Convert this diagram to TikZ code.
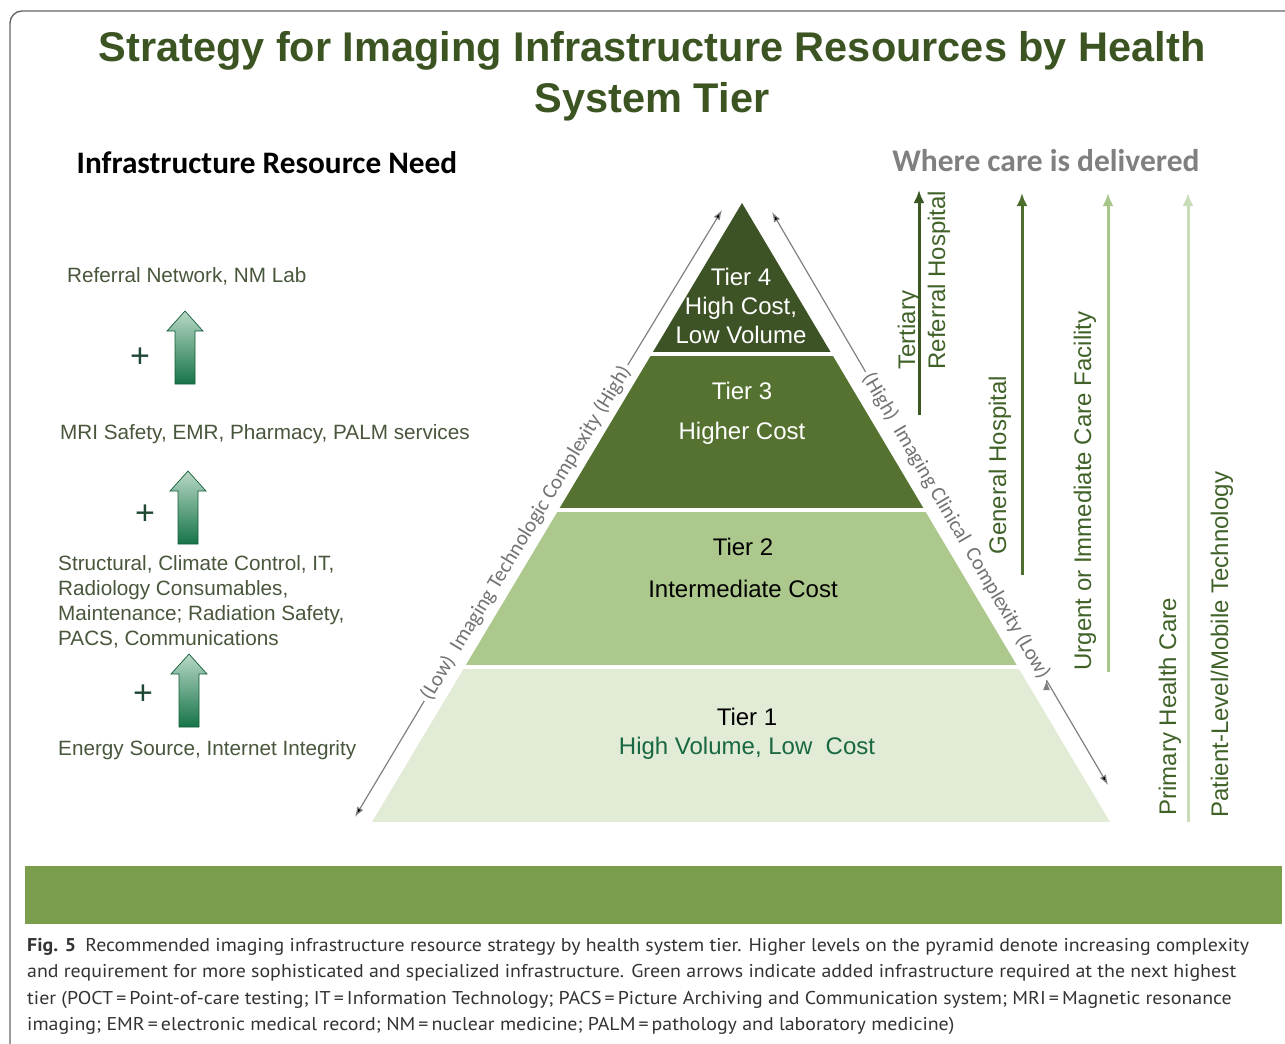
\documentclass[tikz,border=0pt]{standalone}
\usepackage{fontspec}
\setmainfont{Liberation Sans}
\newfontfamily\calfont{Carlito}
\newfontfamily\capfont[FakeStretch=1.075]{PT Sans}
\usepackage{xcolor}
\usepackage{tikz}
\usetikzlibrary{arrows.meta,shapes}

\definecolor{titlegreen}{RGB}{59,84,34}
\definecolor{leftgrey}{RGB}{72,86,60}
\definecolor{plusgreen}{RGB}{30,72,52}
\definecolor{tierfour}{RGB}{61,82,37}
\definecolor{tierthree}{RGB}{85,114,48}
\definecolor{tiertwo}{RGB}{172,200,140}
\definecolor{tierone}{RGB}{226,235,214}
\definecolor{lowgreen}{RGB}{24,104,66}
\definecolor{careone}{RGB}{60,88,34}
\definecolor{caretwo}{RGB}{78,110,46}
\definecolor{carethree}{RGB}{166,198,138}
\definecolor{carefour}{RGB}{200,220,184}
\definecolor{caretext}{RGB}{64,98,40}
\definecolor{bargreen}{RGB}{122,158,75}
\definecolor{arrowtop}{RGB}{184,216,198}
\definecolor{arrowbot}{RGB}{22,116,72}

% block arrow with its tip at (#1,#2)
\newcommand{\addarrow}[2]{%
  \shade[top color=arrowtop,bottom color=arrowbot,draw=arrowbot!80!black,line width=0.7pt]
  (#1,#2) -- ++(18,20) -- ++(-8,0) -- ++(0,53) -- ++(-20,0) -- ++(0,-53) -- ++(-8,0) -- cycle;}

\tikzset{
  lefttext/.style={anchor=base west,inner sep=0,text=leftgrey,font=\fontsize{20.7}{25}\selectfont},
  plussign/.style={text=plusgreen,font=\fontsize{34}{34}\selectfont},
  tiertext/.style={align=center,font=\fontsize{24}{29}\selectfont},
  diag/.style={inner sep=3pt,text=black!55,font=\calfont\fontsize{21}{21}\selectfont},
  diagline/.style={draw=black!50,line width=1.2pt,-{Latex[length=10pt,width=7pt]}},
  care/.style={rotate=90,text=caretext,align=left,font=\fontsize{24}{30}\selectfont},
  carearrow/.style={line width=3pt,-{Latex[length=13pt,width=11pt]}},
  captext/.style={anchor=base west,inner sep=0,text=black!80,font=\capfont\fontsize{18.5}{18.5}\selectfont}
}

\begin{document}
\begin{tikzpicture}[x=1pt,y=-1pt]
		\useasboundingbox (0,0) rectangle (1285,1044);
		\draw[black!60,line width=1.4pt,rounded corners=12pt] (1300,11) -- (10,11) -- (10,1060);
		%
		% titles
		\node[align=center,text=titlegreen,font=\bfseries\fontsize{41.5}{51}\selectfont] (title) at (652,76)
		{Strategy for Imaging Infrastructure Resources by Health\\System Tier};
		\node[font=\calfont\bfseries\fontsize{31.3}{31}\selectfont] (need) at (267,163) {Infrastructure Resource Need};
		\node[text=black!50,font=\calfont\bfseries\fontsize{31.5}{31}\selectfont] (where) at (1046,161) {Where care is delivered};
		%
		% left column
		\node[lefttext] (lab) at (67,282) {Referral\ Network,\ NM Lab};
		\node[lefttext] (palm) at (60,439) {MRI\ Safety,\ EMR,\ Pharmacy,\ PALM services};
		\node[lefttext,anchor=north west,align=left] (struct) at (58,555)
		{Structural,\ Climate Control, IT,\\Radiology Consumables,\\Maintenance;\ Radiation Safety,\\PACS, Communications};
		\node[lefttext] (energy) at (58,755) {Energy\ Source, Internet\ Integrity};
		\node[plussign] (plusone) at (140,358) {+};
		\node[plussign] (plustwo) at (145,515) {+};
		\node[plussign] (plusthree) at (143,695) {+};
		\addarrow{185}{311}
		\addarrow{188}{471}
		\addarrow{189}{654}
		%
		% pyramid
		\begin{scope}
		\clip (742,203) -- (372,822) -- (1110,822) -- cycle;
		\fill[tierfour] (300,190) rectangle (1200,352);
		\fill[tierthree] (300,356) rectangle (1200,508);
		\fill[tiertwo] (300,512) rectangle (1200,665);
		\fill[tierone] (300,669) rectangle (1200,822);
		\end{scope}
		\node[tiertext,text=white] (tfour) at (741,306) {Tier 4\\High Cost,\\Low Volume};
		\node[tiertext,text=white] (tthree) at (742,413) {Tier 3\\[11pt]Higher Cost};
		\node[tiertext] (ttwo) at (743,568) {Tier 2\\[13pt]Intermediate Cost};
		\node[tiertext] (tone) at (747,734) {Tier 1\\\textcolor{lowgreen}{High Volume,\ Low\ \ Cost}};
		%
		% complexity arrows
		\node[diag,rotate=58.8] (ltxt) at (526,533) {(Low)\ \ Imaging Technologic Complexity (High)};
		\node[diag,rotate=-59.6] (rtxt) at (956,526) {(High)\ \ Imaging Clinical\ \ Complexity (Low)};
		\coordinate (ltop) at (722,210);
		\coordinate (lbot) at (355,817);
		\coordinate (rtop) at (772,212);
		\coordinate (rbot) at (1108,785);
		\path[diagline]
		(ltxt.east) edge (ltop)
		(ltxt.west) edge (lbot)
		(rtxt.west) edge (rtop)
		(rtxt.east) edge (rbot);
		%
		% where care is delivered
		\coordinate (aone) at (919,415);
		\coordinate (aonetip) at (919,190);
		\coordinate (atwo) at (1022,575);
		\coordinate (atwotip) at (1022,193);
		\coordinate (athree) at (1108,672);
		\coordinate (athreetip) at (1108,193);
		\coordinate (afour) at (1188,822);
		\coordinate (afourtip) at (1188,193);
		\path[carearrow]
		(aone) edge[careone] (aonetip)
		(atwo) edge[caretwo] (atwotip)
		(athree) edge[carethree] (athreetip)
		(afour) edge[carefour] (afourtip);
		\node[care,anchor=west] (tert) at (924,373) {Tertiary\\Referral Hospital};
		\node[care] (gen) at (1000,465) {General Hospital};
		\node[care] (urg) at (1085,491) {Urgent or Immediate Care Facility};
		\node[care,anchor=west] (prim) at (1170,819) {Primary Health Care};
		\node[care,anchor=west] (pat) at (1222,821) {Patient-Level/Mobile Technology};
		%
		% caption
		\fill[bargreen] (25,866) rectangle (1282,924);
		\node[captext] (capone) at (27,951) {\textbf{Fig. 5}\enspace Recommended imaging infrastructure resource strategy by health system tier. Higher levels on the pyramid denote increasing complexity};
		\node[captext] (captwo) at (27,977) {and requirement for more sophisticated and specialized infrastructure. Green arrows indicate added infrastructure required at the next highest};
		\node[captext] (capthree) at (27,1004) {tier (POCT\,=\,Point-of-care testing; IT\,=\,Information Technology; PACS\,=\,Picture Archiving and Communication system; MRI\,=\,Magnetic resonance};
		\node[captext] (capfour) at (27,1030) {imaging; EMR\,=\,electronic medical record; NM\,=\,nuclear medicine; PALM\,=\,pathology and laboratory medicine)};
\end{tikzpicture}
\end{document}
